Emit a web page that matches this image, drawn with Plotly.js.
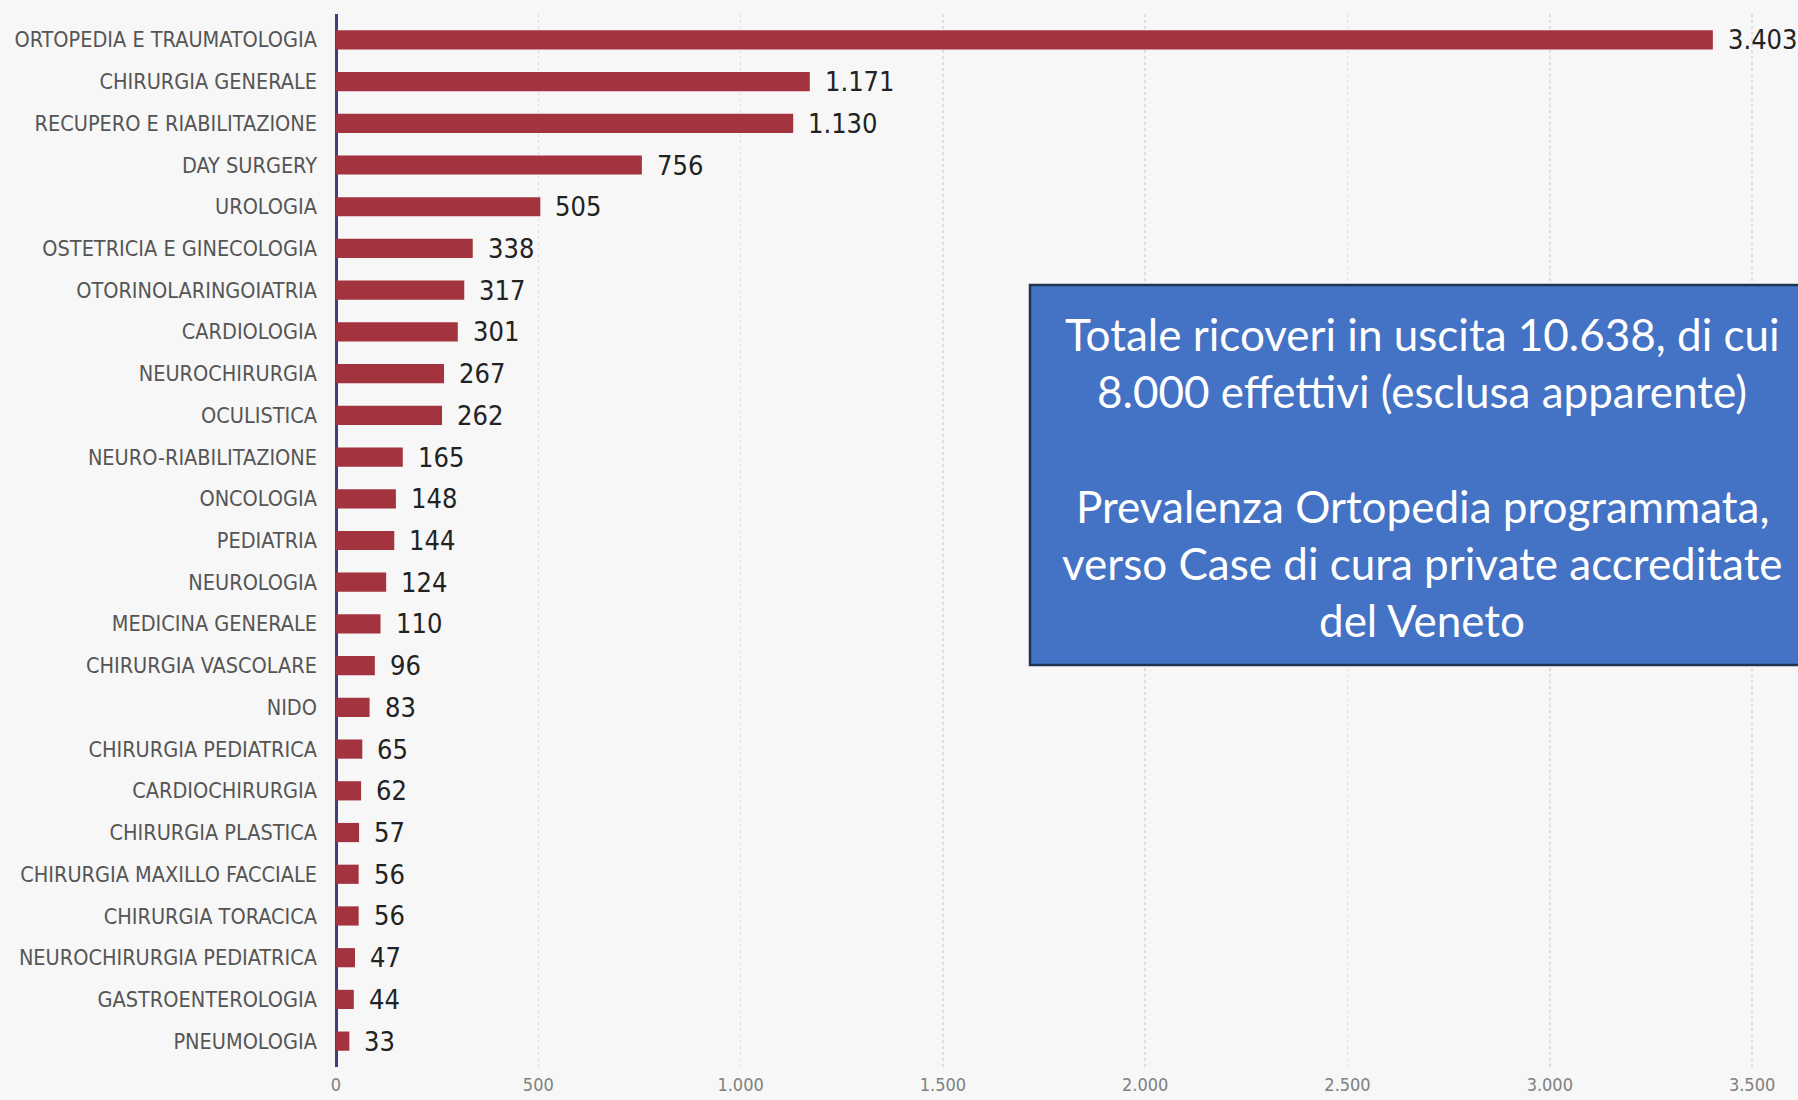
<!DOCTYPE html>
<html>
<head>
<meta charset="utf-8">
<script src="https://cdn.plot.ly/plotly-3.0.1.min.js"></script>
<style>html,body{margin:0;padding:0;background:#f7f7f7;}#chart{width:1798px;height:1100px;}</style>
</head>
<body>
<div id="chart"></div>
<script>
const categories = [
  "ORTOPEDIA E TRAUMATOLOGIA","CHIRURGIA GENERALE","RECUPERO E RIABILITAZIONE","DAY SURGERY",
  "UROLOGIA","OSTETRICIA E GINECOLOGIA","OTORINOLARINGOIATRIA","CARDIOLOGIA","NEUROCHIRURGIA",
  "OCULISTICA","NEURO-RIABILITAZIONE","ONCOLOGIA","PEDIATRIA","NEUROLOGIA","MEDICINA GENERALE",
  "CHIRURGIA VASCOLARE","NIDO","CHIRURGIA PEDIATRICA","CARDIOCHIRURGIA","CHIRURGIA PLASTICA",
  "CHIRURGIA MAXILLO FACCIALE","CHIRURGIA TORACICA","NEUROCHIRURGIA PEDIATRICA","GASTROENTEROLOGIA","PNEUMOLOGIA"
];
const values = [3403,1171,1130,756,505,338,317,301,267,262,165,148,144,124,110,96,83,65,62,57,56,56,47,44,33];
const tickValues = [0,500,1000,1500,2000,2500,3000,3500];
const boxLines = [
  "Totale ricoveri in uscita 10.638, di cui",
  "8.000 effettivi (esclusa apparente)",
  "Prevalenza Ortopedia programmata,",
  "verso Case di cura private accreditate",
  "del Veneto"
];

const W = 1798, H = 1100;
const M = {l: 336, r: 20, t: 14, b: 33};
const pw = W - M.l - M.r, ph = H - M.t - M.b;
const px2x = p => (p - M.l) / pw;
const py2y = p => (H - M.b - p) / ph;

const fmt = v => v.toString().replace(/\B(?=(\d{3})+(?!\d))/g, ".");
const narrow = "Liberation Sans Narrow, DejaVu Sans Condensed, Arial Narrow, sans-serif";

const trace = {
  type: "bar", orientation: "h",
  x: values, y: categories,
  width: 0.46,
  marker: {color: "#a3333e"},
  hoverinfo: "none"
};

const annotations = values.map((v, i) => ({
  x: v, y: categories[i], xref: "x", yref: "y",
  text: fmt(v), showarrow: false, xanchor: "left", yanchor: "middle",
  xshift: 13,
  font: {family: narrow, size: 27, color: "#222222"}
}));

const lineY = [334, 391, 506, 563, 620];
boxLines.forEach((t, i) => {
  annotations.push({
    x: px2x(1422), y: py2y(lineY[i]), xref: "paper", yref: "paper",
    text: t, showarrow: false, xanchor: "center", yanchor: "middle",
    font: {family: "Lato, Open Sans, sans-serif", size: 44, color: "#ffffff"}
  });
});

const layout = {
  width: W, height: H,
  margin: M,
  paper_bgcolor: "#f7f7f7", plot_bgcolor: "#f7f7f7",
  separators: ",.",
  showlegend: false,
  xaxis: {
    range: [0, pw / 0.4046],
    tickvals: tickValues,
    ticktext: tickValues.map(fmt),
    showgrid: true, gridcolor: "#dedede", griddash: "dot", gridwidth: 1.5,
    zeroline: true, zerolinecolor: "#3f3f7c", zerolinewidth: 3,
    showline: false, ticks: "",
    ticklabelstandoff: 5,
    tickfont: {family: narrow, size: 18, color: "#808080"},
    fixedrange: true
  },
  yaxis: {
    type: "category",
    range: [24.62, -0.62],
    showgrid: false, zeroline: false, showline: false, ticks: "",
    ticklabelstandoff: 18,
    tickfont: {family: narrow, size: 21.5, color: "#555555"},
    fixedrange: true
  },
  shapes: [{
    type: "rect", xref: "paper", yref: "paper",
    x0: px2x(1030), x1: px2x(1815), y0: py2y(665), y1: py2y(285),
    fillcolor: "#4472c4", line: {color: "#223350", width: 2.5},
    layer: "above"
  }],
  annotations: annotations
};

Plotly.newPlot("chart", [trace], layout, {displayModeBar: false, staticPlot: true});
</script>
</body>
</html>
